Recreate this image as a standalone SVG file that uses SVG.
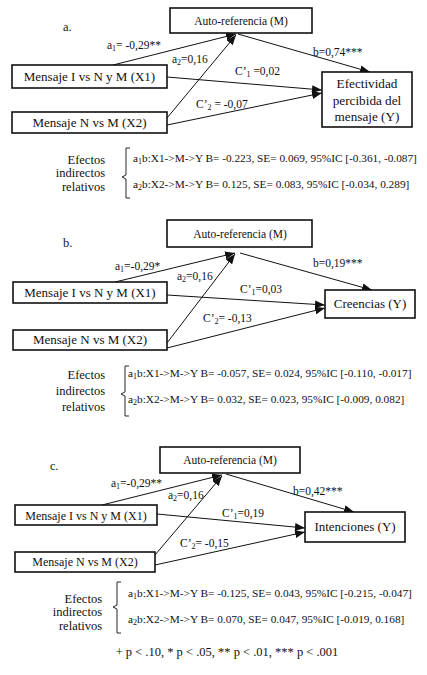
<svg xmlns="http://www.w3.org/2000/svg" width="427" height="675" viewBox="0 0 427 675" font-family="Liberation Serif, serif">
<defs>
<style>
text{fill:#111}
.bx{fill:#fff;stroke:#111;stroke-width:1.6}
.nt{font-size:13px;text-anchor:middle}
.nm{font-size:11.5px;text-anchor:middle}
.ny{font-size:13.2px;text-anchor:middle}
.nc{font-size:12px;text-anchor:middle}
.lb{font-size:11.5px}
.ef{font-size:12.5px;text-anchor:end}
.ln{font-size:11.3px}
.cn{stroke:#111;stroke-width:1;fill:none;marker-end:url(#ah)}
.br{stroke:#111;stroke-width:0.9;fill:none}
.s{font-size:8px}
</style>
<marker id="ah" viewBox="0 0 10 8" refX="10" refY="4" markerWidth="10" markerHeight="8" markerUnits="userSpaceOnUse" orient="auto">
<path d="M0,0 L10,4 L0,8 Z" fill="#111"/>
</marker>
</defs>
<rect width="427" height="675" fill="#fff"/>

<!-- Panel a -->
<text x="63" y="31" font-family="Liberation Serif, serif" font-size="12.5">a.</text>
<g id="connectors-a">
<line class="cn" x1="113" y1="65" x2="236" y2="34"/>
<line class="cn" x1="167" y1="118" x2="236" y2="35"/>
<line class="cn" x1="238" y1="34" x2="370" y2="72"/>
<line class="cn" x1="167" y1="77" x2="322" y2="90"/>
<line class="cn" x1="167" y1="125" x2="322" y2="93"/>
</g>
<g id="a-M"><rect class="bx" x="170" y="8" width="142" height="25"/><text font-family="Liberation Serif, serif" class="nm" x="241" y="25">Auto-referencia (M)</text></g>
<g id="a-X1"><rect class="bx" x="12" y="65" width="155" height="23"/><text font-family="Liberation Serif, serif" class="nt" x="89.5" y="81">Mensaje I vs N y M (X1)</text></g>
<g id="a-X2"><rect class="bx" x="12" y="112" width="155" height="21"/><text font-family="Liberation Serif, serif" class="nt" x="89.5" y="127">Mensaje N vs M (X2)</text></g>
<g id="a-Y"><rect class="bx" x="322" y="72" width="90" height="55"/>
<text font-family="Liberation Serif, serif" class="ny" x="367" y="88">Efectividad</text><text font-family="Liberation Serif, serif" class="ny" x="367" y="105">percibida del</text><text font-family="Liberation Serif, serif" class="ny" x="367" y="121">mensaje (Y)</text></g>
<g id="a-labels">
<text font-family="Liberation Serif, serif" class="lb" x="107" y="49">a<tspan class="s" dy="2">1</tspan><tspan dy="-2">= -0,29**</tspan></text>
<text font-family="Liberation Serif, serif" class="lb" x="172" y="63">a<tspan class="s" dy="2">2</tspan><tspan dy="-2">=0,16</tspan></text>
<text font-family="Liberation Serif, serif" class="lb" x="313" y="56">b=0,74***</text>
<text font-family="Liberation Serif, serif" class="lb" x="235" y="75">C’<tspan class="s" dy="2">1</tspan><tspan dy="-2"> =0,02</tspan></text>
<text font-family="Liberation Serif, serif" class="lb" x="196" y="108">C’<tspan class="s" dy="2">2</tspan><tspan dy="-2"> = -0,07</tspan></text>
</g>
<g id="a-effects">
<text font-family="Liberation Serif, serif" class="ef" x="105" y="164">Efectos</text>
<text font-family="Liberation Serif, serif" class="ef" x="105" y="177">indirectos</text>
<text font-family="Liberation Serif, serif" class="ef" x="105" y="191">relativos</text>
<path class="br" d="M130,148 H126 V175 L122,177 L126,179 V198 H130"/>
<text font-family="Liberation Serif, serif" class="ln" x="133" y="162">a<tspan class="s" dy="2">1</tspan><tspan dy="-2">b:X1-&gt;M-&gt;Y B= -0.223, SE= 0.069, 95%IC [-0.361, -0.087]</tspan></text>
<text font-family="Liberation Serif, serif" class="ln" x="133" y="188">a<tspan class="s" dy="2">2</tspan><tspan dy="-2">b:X2-&gt;M-&gt;Y B= 0.125, SE= 0.083, 95%IC [-0.034, 0.289]</tspan></text>
</g>

<!-- Panel b -->
<text x="63" y="247" font-family="Liberation Serif, serif" font-size="12.5">b.</text>
<g id="connectors-b">
<line class="cn" x1="115" y1="282" x2="235" y2="253"/>
<line class="cn" x1="167" y1="343" x2="235" y2="254"/>
<line class="cn" x1="240" y1="253" x2="372" y2="290"/>
<line class="cn" x1="167" y1="295" x2="325" y2="305"/>
<line class="cn" x1="167" y1="348" x2="325" y2="308"/>
</g>
<g id="b-M"><rect class="bx" x="167" y="220" width="145" height="27"/><text font-family="Liberation Serif, serif" class="nm" x="240" y="238">Auto-referencia (M)</text></g>
<g id="b-X1"><rect class="bx" x="13" y="282" width="154" height="21"/><text font-family="Liberation Serif, serif" class="nt" x="90" y="297">Mensaje I vs N y M (X1)</text></g>
<g id="b-X2"><rect class="bx" x="13" y="330" width="154" height="20"/><text font-family="Liberation Serif, serif" class="nt" x="90" y="344">Mensaje N vs M (X2)</text></g>
<g id="b-Y"><rect class="bx" x="325" y="290" width="90" height="28"/><text font-family="Liberation Serif, serif" class="nt" x="370" y="308">Creencias (Y)</text></g>
<g id="b-labels">
<text font-family="Liberation Serif, serif" class="lb" x="115" y="270">a<tspan class="s" dy="2">1</tspan><tspan dy="-2">=-0,29*</tspan></text>
<text font-family="Liberation Serif, serif" class="lb" x="177" y="280">a<tspan class="s" dy="2">2</tspan><tspan dy="-2">=0,16</tspan></text>
<text font-family="Liberation Serif, serif" class="lb" x="313" y="267">b=0,19***</text>
<text font-family="Liberation Serif, serif" class="lb" x="240" y="293">C’<tspan class="s" dy="2">1</tspan><tspan dy="-2">=0,03</tspan></text>
<text font-family="Liberation Serif, serif" class="lb" x="203" y="322">C’<tspan class="s" dy="2">2</tspan><tspan dy="-2">= -0,13</tspan></text>
</g>
<g id="b-effects">
<text font-family="Liberation Serif, serif" class="ef" x="105" y="379">Efectos</text>
<text font-family="Liberation Serif, serif" class="ef" x="105" y="395">indirectos</text>
<text font-family="Liberation Serif, serif" class="ef" x="105" y="411">relativos</text>
<path class="br" d="M129,366 H125 V392 L121,394 L125,396 V416 H129"/>
<text font-family="Liberation Serif, serif" class="ln" x="128" y="377">a<tspan class="s" dy="2">1</tspan><tspan dy="-2">b:X1-&gt;M-&gt;Y B= -0.057, SE= 0.024, 95%IC [-0.110, -0.017]</tspan></text>
<text font-family="Liberation Serif, serif" class="ln" x="128" y="403">a<tspan class="s" dy="2">2</tspan><tspan dy="-2">b:X2-&gt;M-&gt;Y B= 0.032, SE= 0.023, 95%IC [-0.009, 0.082]</tspan></text>
</g>

<!-- Panel c -->
<text x="50" y="470" font-family="Liberation Serif, serif" font-size="12">c.</text>
<g id="connectors-c">
<line class="cn" x1="102" y1="505" x2="222" y2="475"/>
<line class="cn" x1="155" y1="555" x2="222" y2="476"/>
<line class="cn" x1="226" y1="474" x2="354" y2="512"/>
<line class="cn" x1="157" y1="514" x2="305" y2="528"/>
<line class="cn" x1="155" y1="565" x2="305" y2="532"/>
</g>
<g id="c-M"><rect class="bx" x="160" y="447" width="140" height="26"/><text font-family="Liberation Serif, serif" class="nm" x="230" y="464">Auto-referencia (M)</text></g>
<g id="c-X1"><rect class="bx" x="15" y="505" width="142" height="20"/><text font-family="Liberation Serif, serif" class="nc" x="86" y="520">Mensaje I vs N y M (X1)</text></g>
<g id="c-X2"><rect class="bx" x="15" y="552" width="140" height="20"/><text font-family="Liberation Serif, serif" class="nc" x="85" y="566">Mensaje N vs M (X2)</text></g>
<g id="c-Y"><rect class="bx" x="305" y="512" width="100" height="30"/><text font-family="Liberation Serif, serif" class="nt" x="355" y="531">Intenciones (Y)</text></g>
<g id="c-labels">
<text font-family="Liberation Serif, serif" class="lb" x="111" y="487">a<tspan class="s" dy="2">1</tspan><tspan dy="-2">=-0,29**</tspan></text>
<text font-family="Liberation Serif, serif" class="lb" x="168" y="499">a<tspan class="s" dy="2">2</tspan><tspan dy="-2">=0,16</tspan></text>
<text font-family="Liberation Serif, serif" class="lb" x="293" y="495">b=0,42***</text>
<text font-family="Liberation Serif, serif" class="lb" x="222" y="517">C’<tspan class="s" dy="2">1</tspan><tspan dy="-2">=0,19</tspan></text>
<text font-family="Liberation Serif, serif" class="lb" x="180" y="547">C’<tspan class="s" dy="2">2</tspan><tspan dy="-2">= -0,15</tspan></text>
</g>
<g id="c-effects">
<text font-family="Liberation Serif, serif" class="ef" x="102" y="603">Efectos</text>
<text font-family="Liberation Serif, serif" class="ef" x="102" y="616">indirectos</text>
<text font-family="Liberation Serif, serif" class="ef" x="102" y="630">relativos</text>
<path class="br" d="M121,582 H117 V605 L113,607 L117,609 V633 H121"/>
<text font-family="Liberation Serif, serif" class="ln" x="128" y="597">a<tspan class="s" dy="2">1</tspan><tspan dy="-2">b:X1-&gt;M-&gt;Y B= -0.125, SE= 0.043, 95%IC [-0.215, -0.047]</tspan></text>
<text font-family="Liberation Serif, serif" class="ln" x="128" y="623">a<tspan class="s" dy="2">2</tspan><tspan dy="-2">b:X2-&gt;M-&gt;Y B= 0.070, SE= 0.047, 95%IC [-0.019, 0.168]</tspan></text>
</g>
<text x="227" y="656" font-family="Liberation Serif, serif" font-size="12.5" text-anchor="middle">+ p &lt; .10, * p &lt; .05, ** p &lt; .01, *** p &lt; .001</text>
</svg>
